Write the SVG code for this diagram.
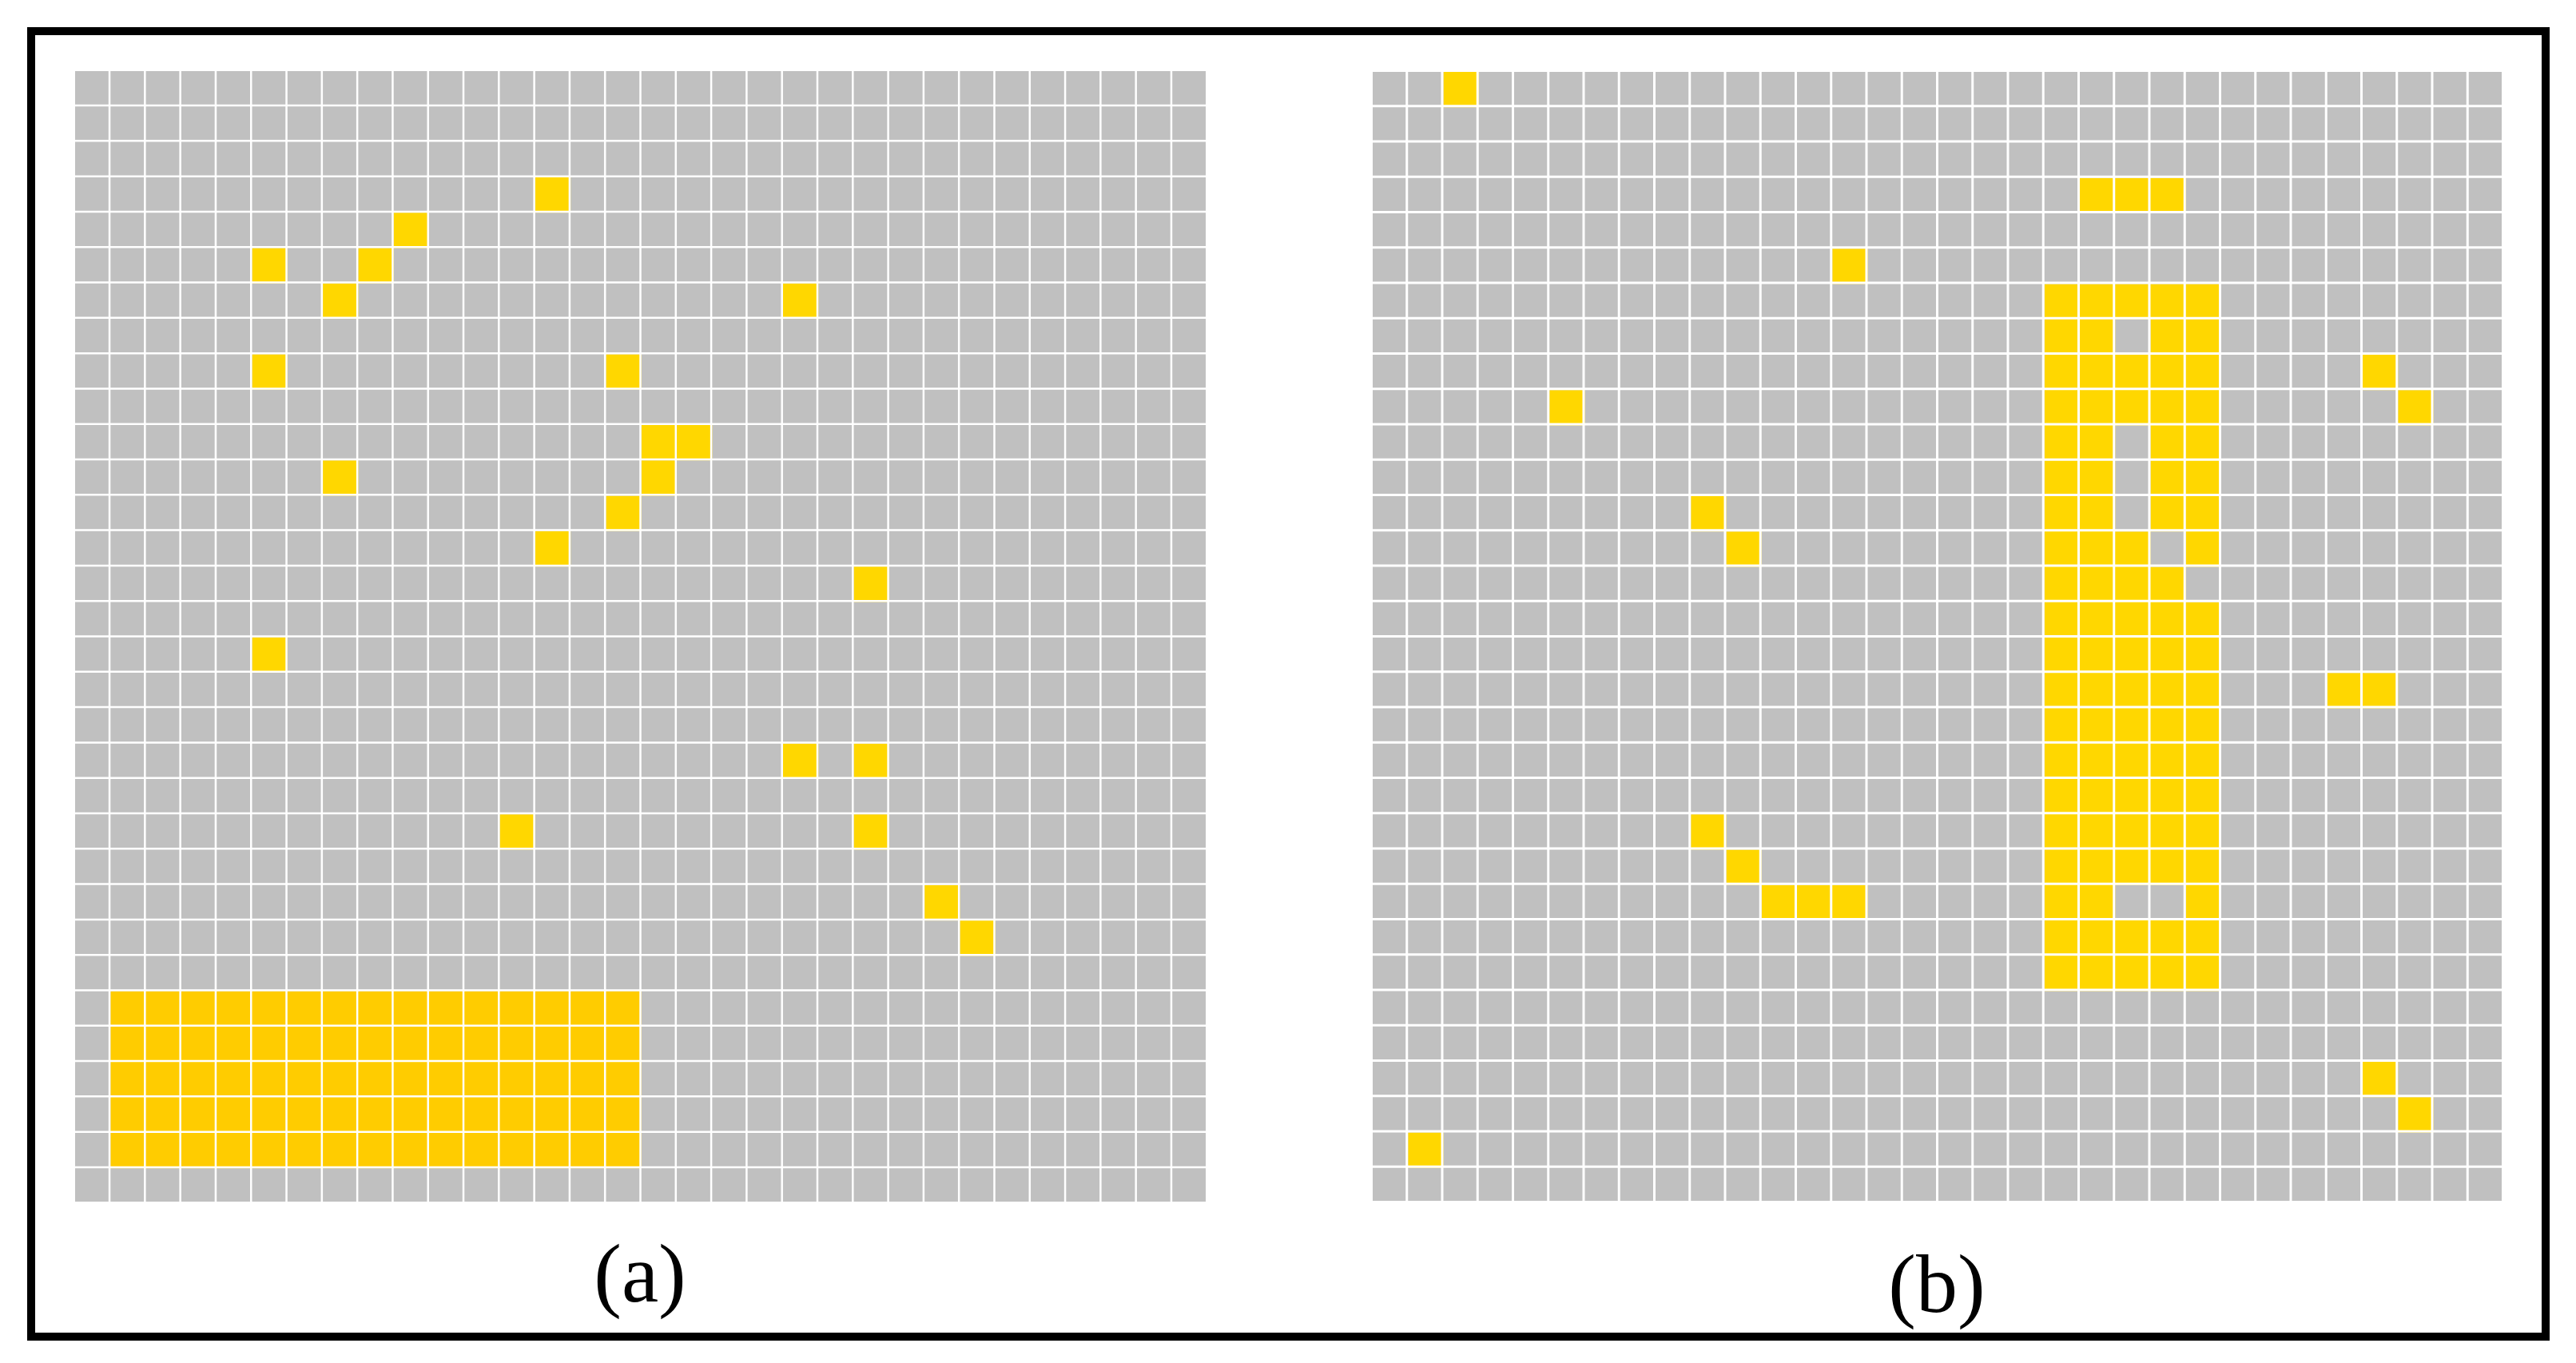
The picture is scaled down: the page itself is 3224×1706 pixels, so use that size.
<svg xmlns="http://www.w3.org/2000/svg" xmlns:xlink="http://www.w3.org/1999/xlink" width="3224" height="1706" viewBox="0 0 3224 1706">
<style>
.g{fill:#C0C0C0}
.y{fill:#FFD700}
.o{fill:#FFCC00}
.lbl{font-family:"Liberation Serif","Times New Roman",serif;font-size:104px;fill:#000;text-anchor:middle}
.gl{fill:none;stroke:#FFFFFF}
</style>
<defs>
<path id="vl" d="M1 0V32M2 0V32M3 0V32M4 0V32M5 0V32M6 0V32M7 0V32M8 0V32M9 0V32M10 0V32M11 0V32M12 0V32M13 0V32M14 0V32M15 0V32M16 0V32M17 0V32M18 0V32M19 0V32M20 0V32M21 0V32M22 0V32M23 0V32M24 0V32M25 0V32M26 0V32M27 0V32M28 0V32M29 0V32M30 0V32M31 0V32"/>
<path id="hl" d="M0 1H32M0 2H32M0 3H32M0 4H32M0 5H32M0 6H32M0 7H32M0 8H32M0 9H32M0 10H32M0 11H32M0 12H32M0 13H32M0 14H32M0 15H32M0 16H32M0 17H32M0 18H32M0 19H32M0 20H32M0 21H32M0 22H32M0 23H32M0 24H32M0 25H32M0 26H32M0 27H32M0 28H32M0 29H32M0 30H32M0 31H32"/>
</defs>
<rect x="0" y="0" width="3224" height="1706" fill="#FFFFFF"/>
<rect id="frame" x="39" y="39" width="3147" height="1634" fill="#FFFFFF" stroke="#000000" stroke-width="10"/>

<g id="panel-a" transform="translate(94 89) scale(44.297)">
<rect class="g" x="0" y="0" width="31.944" height="31.944"/>
<g id="cells-a">
<rect class="y" x="13" y="3" width="1" height="1"/>
<rect class="y" x="9" y="4" width="1" height="1"/>
<rect class="y" x="5" y="5" width="1" height="1"/>
<rect class="y" x="8" y="5" width="1" height="1"/>
<rect class="y" x="7" y="6" width="1" height="1"/>
<rect class="y" x="20" y="6" width="1" height="1"/>
<rect class="y" x="5" y="8" width="1" height="1"/>
<rect class="y" x="15" y="8" width="1" height="1"/>
<rect class="y" x="16" y="10" width="1" height="1"/>
<rect class="y" x="17" y="10" width="1" height="1"/>
<rect class="y" x="7" y="11" width="1" height="1"/>
<rect class="y" x="16" y="11" width="1" height="1"/>
<rect class="y" x="15" y="12" width="1" height="1"/>
<rect class="y" x="13" y="13" width="1" height="1"/>
<rect class="y" x="22" y="14" width="1" height="1"/>
<rect class="y" x="5" y="16" width="1" height="1"/>
<rect class="y" x="20" y="19" width="1" height="1"/>
<rect class="y" x="22" y="19" width="1" height="1"/>
<rect class="y" x="12" y="21" width="1" height="1"/>
<rect class="y" x="22" y="21" width="1" height="1"/>
<rect class="y" x="24" y="23" width="1" height="1"/>
<rect class="y" x="25" y="24" width="1" height="1"/>
<rect class="o" x="1" y="26" width="15" height="5"/>
</g>
<use xlink:href="#vl" href="#vl" class="gl" transform="translate(-0.0282 0)" stroke-width="0.0564"/>
<use xlink:href="#hl" href="#hl" class="gl" transform="translate(0 -0.0282)" stroke-width="0.0564"/>
</g>

<g id="panel-b" transform="translate(1718 90) scale(44.25)">
<rect class="g" x="0" y="0" width="31.932" height="31.932"/>
<g id="cells-b">
<rect class="y" x="2" y="0" width="1" height="1"/>
<rect class="y" x="20" y="3" width="3" height="1"/>
<rect class="y" x="13" y="5" width="1" height="1"/>
<rect class="y" x="28" y="8" width="1" height="1"/>
<rect class="y" x="5" y="9" width="1" height="1"/>
<rect class="y" x="29" y="9" width="1" height="1"/>
<rect class="y" x="9" y="12" width="1" height="1"/>
<rect class="y" x="10" y="13" width="1" height="1"/>
<rect class="y" x="27" y="17" width="2" height="1"/>
<rect class="y" x="9" y="21" width="1" height="1"/>
<rect class="y" x="10" y="22" width="1" height="1"/>
<rect class="y" x="11" y="23" width="3" height="1"/>
<rect class="y" x="28" y="28" width="1" height="1"/>
<rect class="y" x="29" y="29" width="1" height="1"/>
<rect class="y" x="1" y="30" width="1" height="1"/>
<rect class="y" x="19" y="6" width="5" height="20"/>
<rect class="g" x="21" y="7" width="1" height="1"/>
<rect class="g" x="21" y="10" width="1" height="3"/>
<rect class="g" x="22" y="13" width="1" height="1"/>
<rect class="g" x="23" y="14" width="1" height="1"/>
<rect class="g" x="21" y="23" width="2" height="1"/>
</g>
<use xlink:href="#vl" href="#vl" class="gl" transform="translate(-0.0339 0)" stroke-width="0.0678"/>
<use xlink:href="#hl" href="#hl" class="gl" transform="translate(0 -0.0339)" stroke-width="0.0678"/>
</g>

<text id="label-a" class="lbl" x="801" y="1629">(a)</text>
<text id="label-b" class="lbl" x="2424" y="1642">(b)</text>
</svg>
